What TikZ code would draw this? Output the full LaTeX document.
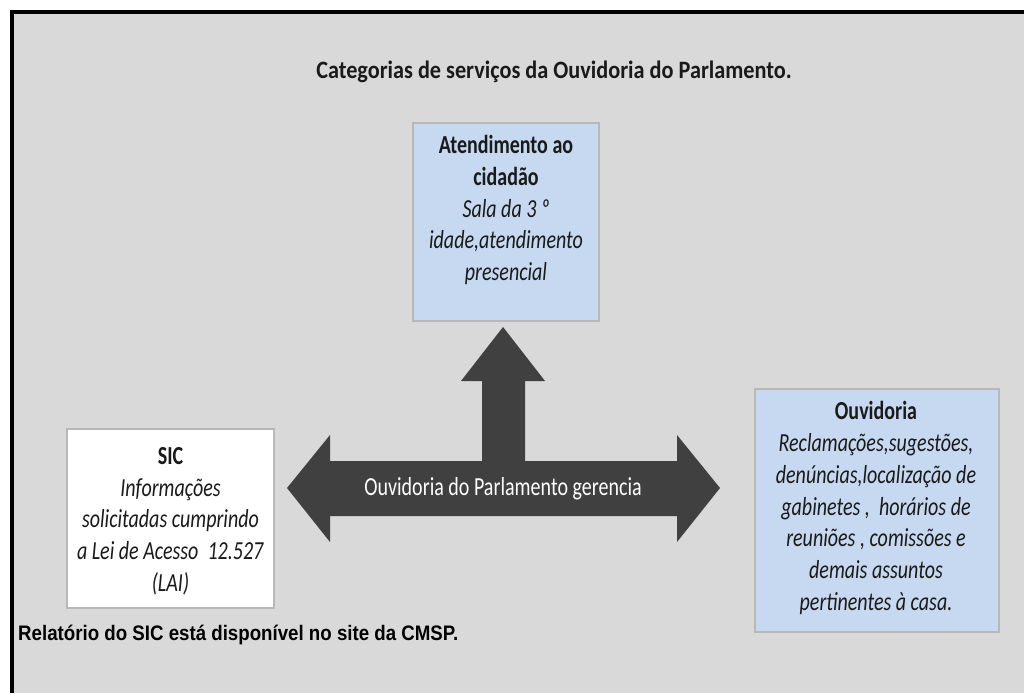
\documentclass[tikz,border=0pt]{standalone}
\usepackage{fontspec}
\newfontfamily\boxfont[FakeStretch=0.77]{Carlito}
\newfontfamily\titlefont[FakeStretch=0.89]{Carlito}
\newfontfamily\notefont[FakeStretch=0.89]{Liberation Sans}
\definecolor{bggray}{HTML}{D9D9D9}
\definecolor{boxblue}{HTML}{C6D9F1}
\definecolor{boxedge}{HTML}{B8B8B8}
\definecolor{arrowgray}{HTML}{404040}
\definecolor{txt}{HTML}{1A1A1A}
\begin{document}
\begin{tikzpicture}[x=1pt,y=-1pt,
  bluebox/.style={draw=boxedge,line width=1.5pt,fill=boxblue,inner sep=0pt,rectangle},
  whitebox/.style={draw=boxedge,line width=1.5pt,fill=white,inner sep=0pt,rectangle},
  boxtext/.style={align=center,inner sep=0pt,text=txt,font=\boxfont\fontsize{26}{31.7}\selectfont},
  arrowlabel/.style={inner sep=0pt,text=white,font=\boxfont\fontsize{26}{31}\selectfont},
  titletext/.style={inner sep=0pt,text=txt,font=\titlefont\bfseries\fontsize{25}{30}\selectfont},
  notetext/.style={inner sep=0pt,text=black,font=\notefont\bfseries\fontsize{21}{25}\selectfont}]
\useasboundingbox (0,0) rectangle (1024,693);
\fill[white] (0,0) rectangle (1024,693);
\fill[bggray] (11.5,12) rectangle (1024,693);
\draw[line width=4pt,black] (11.5,693) -- (11.5,12) -- (1024,12);

% title
\node[titletext] (title) at (554,72) {Categorias de serviços da Ouvidoria do Parlamento.};

% boxes
\node[bluebox,minimum width=186pt,minimum height=198pt] (atend) at (506,222) {};
\node[whitebox,minimum width=207pt,minimum height=179pt] (sic) at (170.5,518.5) {};
\node[bluebox,minimum width=244pt,minimum height=243pt] (ouv) at (877,510.5) {};

% three-way arrow
\fill[arrowgray] (287,488) -- (330,435) -- (330,461) -- (482,461) -- (482,381)
  -- (461,381) -- (503,327) -- (545,381) -- (525,381) -- (525,461) -- (677,461)
  -- (677,435) -- (720,488) -- (677,542) -- (677,516) -- (330,516) -- (330,542) -- cycle;
\node[arrowlabel] (lbl) at (503,489) {Ouvidoria do Parlamento gerencia};

% box texts
\node[boxtext] (atendtxt) at (506,210) {\textbf{Atendimento ao}\\\textbf{cidadão}\\\textit{Sala da 3 º}\\\textit{idade,atendimento}\\\textit{presencial}};
\node[boxtext] (sictxt) at (170.5,521) {\textbf{SIC}\\\textit{Informações}\\\textit{solicitadas cumprindo}\\\textit{a Lei de Acesso~~12.527}\\\textit{(LAI)}};
\node[boxtext] (ouvtxt) at (876,508) {\textbf{Ouvidoria}\\\textit{Reclamações,sugestões,}\\\textit{denúncias,localização de}\\\textit{gabinetes ,~~horários de}\\\textit{reuniões , comissões e}\\\textit{demais assuntos}\\\textit{pertinentes à casa.}};

% note
\node[notetext,anchor=west] (note) at (18,635) {Relatório do SIC está disponível no site da CMSP.};
\end{tikzpicture}
\end{document}
